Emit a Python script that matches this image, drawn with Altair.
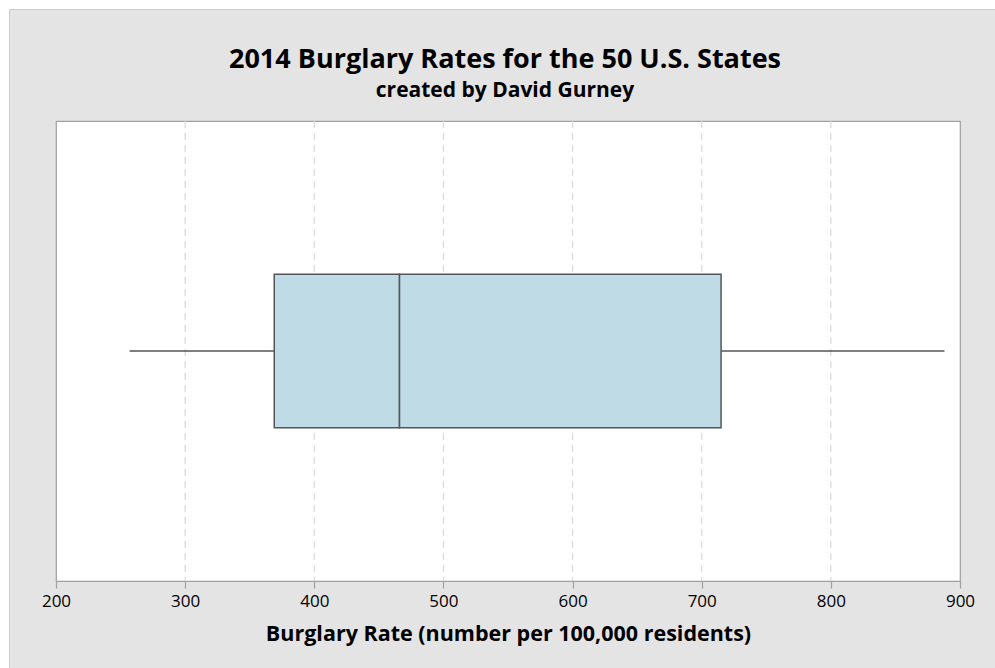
import altair as alt
import pandas as pd

# Five-number summary (burglaries per 100,000 residents)
groups = ["All states"]
minimum = [257]
q1 = [369]
median = [466]
q3 = [715]
maximum = [888]

tick_values = [200, 300, 400, 500, 600, 700, 800, 900]
grid_values = [300, 400, 500, 600, 700, 800]

df = pd.DataFrame({
    "g": groups, "min": minimum, "q1": q1, "median": median, "q3": q3, "max": maximum,
})
grid_df = pd.DataFrame({"v": grid_values})

FONT = "Open Sans"
W, H = 904, 460

xscale = alt.Scale(domain=[200, 900], nice=False, zero=False)
yscale = alt.Scale(paddingInner=0, paddingOuter=1)
x_axis = alt.Axis(
    values=tick_values, format="d",
    title="Burglary Rate (number per 100,000 residents)",
    grid=False, labelFlush=False, labelOverlap=False,
    domainColor="#a0a0a0", tickColor="#a0a0a0", tickSize=7, domainWidth=1.2, tickWidth=1.2,
    labelFont=FONT, labelFontSize=17, labelColor="#000000", labelPadding=5,
    titleFont=FONT, titleFontSize=21.5, titleFontWeight="bold", titleColor="#000000",
    titlePadding=14,
)

grid = alt.Chart(grid_df).mark_rule(color="#d9d9d9", strokeDash=[7, 5], strokeWidth=1.2).encode(
    x=alt.X("v:Q", scale=xscale, axis=x_axis),
)

base = alt.Chart(df)

lower_box = base.mark_bar(fill="#bedbe6", stroke="#555555", strokeWidth=1.5).encode(
    x=alt.X("q1:Q", scale=xscale),
    x2="median:Q",
    y=alt.Y("g:N", scale=yscale, axis=None),
)
upper_box = base.mark_bar(fill="#bedbe6", stroke="#555555", strokeWidth=1.5).encode(
    x=alt.X("median:Q", scale=xscale),
    x2="q3:Q",
    y=alt.Y("g:N", scale=yscale, axis=None),
)
lower_whisker = base.mark_rule(color="#555555", strokeWidth=1.5).encode(
    x=alt.X("min:Q", scale=xscale),
    x2="q1:Q",
    y=alt.Y("g:N", scale=yscale, axis=None),
)
upper_whisker = base.mark_rule(color="#555555", strokeWidth=1.5).encode(
    x=alt.X("q3:Q", scale=xscale),
    x2="max:Q",
    y=alt.Y("g:N", scale=yscale, axis=None),
)

# decorative outer margin (white strip + thin frame line at top and left)
frame = pd.DataFrame({"k": [0]})
top_white = alt.Chart(frame).mark_rule(color="#ffffff", strokeWidth=10).encode(
    x=alt.value(-56), x2=alt.value(939), y=alt.value(-116))
left_white = alt.Chart(frame).mark_rule(color="#ffffff", strokeWidth=10).encode(
    x=alt.value(-51), y=alt.value(-121), y2=alt.value(547))
top_line = alt.Chart(frame).mark_rule(color="#cccccc", strokeWidth=1).encode(
    x=alt.value(-46.5), x2=alt.value(939), y=alt.value(-111.5))
left_line = alt.Chart(frame).mark_rule(color="#cccccc", strokeWidth=1).encode(
    x=alt.value(-46.5), y=alt.value(-111.5), y2=alt.value(547))

chart = alt.layer(
    grid, lower_whisker, upper_whisker, lower_box, upper_box,
    top_white, left_white, top_line, left_line,
).properties(
    width=W, height=H,
    autosize=alt.AutoSizeParams(type="none"),
    padding={"left": 56, "top": 121, "right": 35, "bottom": 87},
    background="#e4e4e4",
    title=alt.TitleParams(
        text="2014 Burglary Rates for the 50 U.S. States",
        subtitle="created by David Gurney",
        font=FONT, fontSize=27, fontWeight="bold", color="#000000",
        subtitleFont=FONT, subtitleFontSize=21, subtitleFontWeight="bold",
        subtitleColor="#000000", subtitlePadding=6,
        anchor="middle", offset=14, frame="group", dy=121, dx=-3,
    ),
).configure_view(
    fill="#ffffff", stroke="#a0a0a0", strokeWidth=1.2,
)

chart.save("out.html", embed_options={"renderer": "svg", "actions": False})
